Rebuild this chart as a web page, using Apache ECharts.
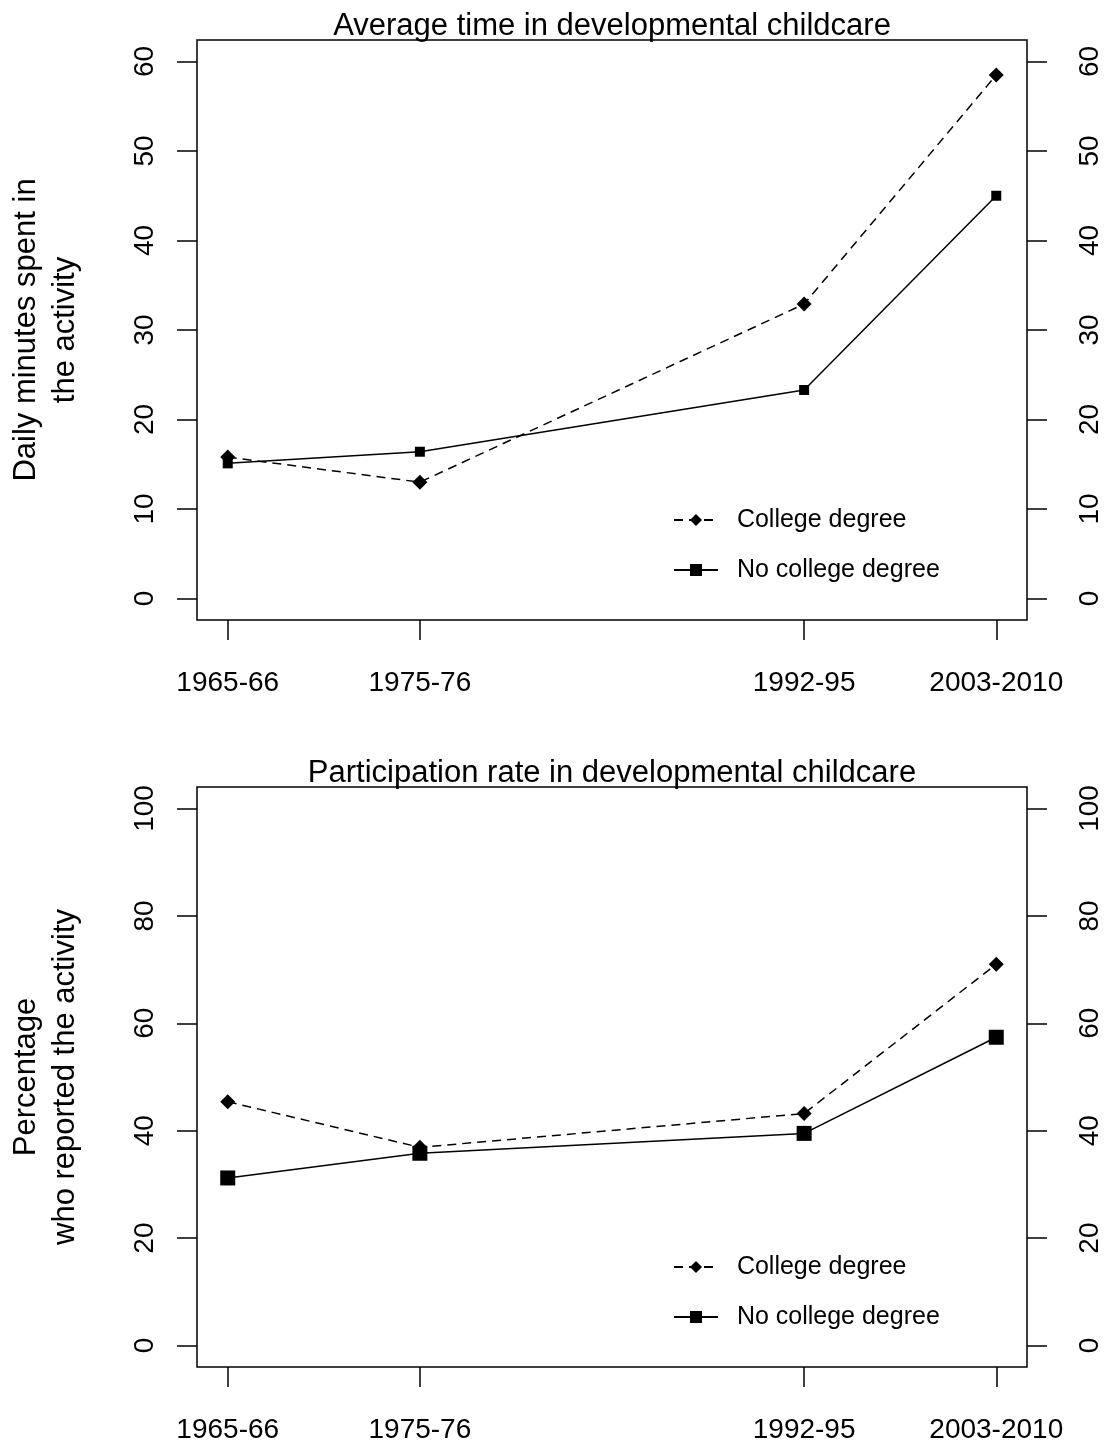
<!DOCTYPE html>
<html><head><meta charset="utf-8">
<script src="https://cdn.jsdelivr.net/npm/echarts@6/dist/echarts.min.js"></script>
<style>html,body{margin:0;padding:0;background:#fff}#c{width:1105px;height:1445px}</style>
</head><body><div id="c"></div>
<script>
const periods = ['1965-66', '1975-76', '1992-95', '2003-2010'];
const periodPos = [1, 2, 4, 5];
const timeCollege = [15.8, 13.0, 32.9, 58.5];
const timeNoCollege = [15.1, 16.4, 23.3, 45.0];
const rateCollege = [45.4, 36.9, 43.2, 71.0];
const rateNoCollege = [31.2, 35.8, 39.5, 57.4];
const timeTicks = [0, 10, 20, 30, 40, 50, 60];
const rateTicks = [0, 20, 40, 60, 80, 100];
const seriesNames = ['College degree', 'No college degree'];
const titles = ['Average time in developmental childcare', 'Participation rate in developmental childcare'];
const yNames = ['Daily minutes spent in\nthe activity', 'Percentage\nwho reported the activity'];

const FONT = '"Liberation Sans", Arial, sans-serif';
const chart = echarts.init(document.getElementById('c'), null, {renderer: 'canvas'});

const panels = [
  {top: 40, height: 580, min: -2.4, max: 62.4, ticks: timeTicks, c: timeCollege, n: timeNoCollege, sq: 10},
  {top: 787, height: 580, min: -4, max: 104, ticks: rateTicks, c: rateCollege, n: rateNoCollege, sq: 15}
];

const grid = [], xAxis = [], yAxis = [], series = [], title = [], legend = [];
const tickStyle = {show: true, length: 20, inside: false, lineStyle: {color: '#000', width: 1.5}};
panels.forEach((p, i) => {
  grid.push({left: 197, width: 830, top: p.top, height: p.height, show: true, borderColor: '#000', borderWidth: 1.5,
    backgroundColor: 'transparent', containLabel: false, outerBoundsMode: 'none'});
  xAxis.push({type: 'value', gridIndex: i, min: 0.84, max: 5.16, position: 'bottom',
    axisLine: {show: false, onZero: false}, splitLine: {show: false},
    axisTick: Object.assign({customValues: periodPos}, tickStyle),
    axisLabel: {customValues: periodPos, color: '#000', fontFamily: FONT, fontSize: 28, margin: 49,
      formatter: v => periods[periodPos.indexOf(v)] || ''}});
  ['left', 'right'].forEach((pos, k) => {
    yAxis.push({type: 'value', gridIndex: i, position: pos, min: p.min, max: p.max,
      axisLine: {show: false, onZero: false}, splitLine: {show: false},
      axisTick: Object.assign({customValues: p.ticks}, tickStyle),
      axisLabel: {customValues: p.ticks, rotate: 90, color: '#000', fontFamily: FONT, fontSize: 28,
        margin: k === 0 ? 38 : 49},
      name: k === 0 ? yNames[i] : '', nameLocation: 'middle', nameRotate: 90, nameGap: 112,
      nameTextStyle: {color: '#000', fontFamily: FONT, fontSize: 31, lineHeight: 39, align: 'center'}});
  });
  const pts = arr => periodPos.map((x, j) => [x, arr[j]]);
  series.push({name: seriesNames[0], type: 'line', xAxisIndex: i, yAxisIndex: i * 2, data: pts(p.c),
    symbol: 'diamond', symbolSize: 15, showSymbol: true,
    lineStyle: {color: '#000', width: 1.5, type: [9, 6]}, itemStyle: {color: '#000'}, z: 3, animation: false});
  series.push({name: seriesNames[1], type: 'line', xAxisIndex: i, yAxisIndex: i * 2, data: pts(p.n),
    symbol: 'rect', symbolSize: p.sq, showSymbol: true,
    lineStyle: {color: '#000', width: 1.5, type: 'solid'}, itemStyle: {color: '#000'}, z: 3, animation: false});
  title.push({text: titles[i], left: 612, textAlign: 'center', top: p.top - 29, padding: 0,
    textStyle: {color: '#000', fontFamily: FONT, fontSize: 31, fontWeight: 'normal'}});
  legend.push({data: seriesNames.map(s => ({name: s})), orient: 'vertical', left: 673, top: p.top + 465, padding: 0,
    itemWidth: 44, itemHeight: 15, itemGap: 20, selectedMode: false,
    formatter: s => '  ' + s,
    textStyle: {color: '#000', fontFamily: FONT, fontSize: 25, lineHeight: 30}});
});

chart.setOption({animation: false, backgroundColor: '#fff', title, legend, grid, xAxis, yAxis, series});
</script></body></html>
